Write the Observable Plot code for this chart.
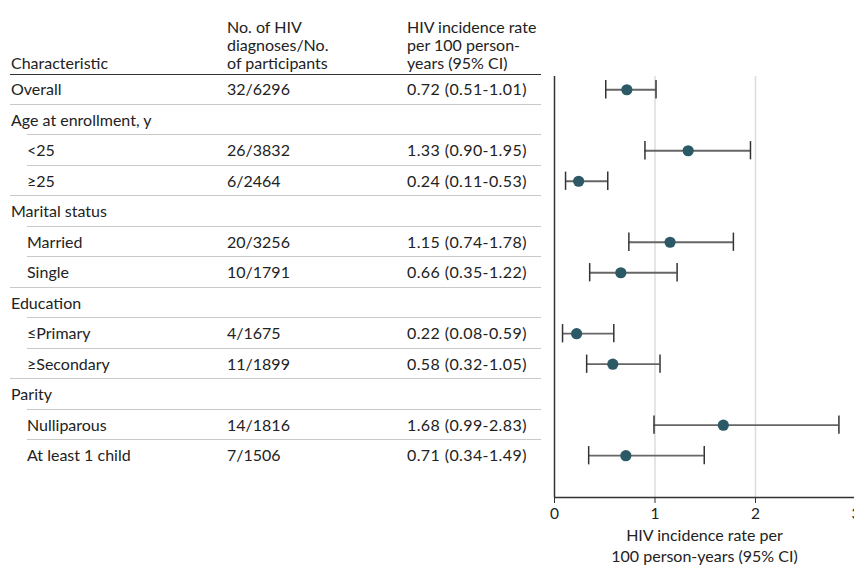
<!DOCTYPE html>
<html>
<head>
<meta charset="utf-8">
<script src="https://cdn.jsdelivr.net/npm/d3@7"></script>
<script src="https://cdn.jsdelivr.net/npm/@observablehq/plot@0.6"></script>
<style>
  html, body { margin: 0; padding: 0; background: #fff; overflow: hidden; }
  #wrap { position: relative; width: 854px; height: 567px; font-family: Lato, "DejaVu Sans", sans-serif; color: #222; }
  #chart { position: absolute; left: 0; top: 0; }
  #table { position: absolute; left: 0; top: 0; width: 541px; font-size: 16px; }
  .hdr { position: absolute; top: 18px; line-height: 17.8px; font-size: 16px; }
  .hline { position: absolute; left: 10px; right: 0; top: 74px; height: 0; border-top: 1px solid #333; }
  .row { position: absolute; left: 0; right: 0; height: 30.5px; line-height: 30.5px; white-space: nowrap; }
  .row .c1, .row .c2, .row .c3 { position: absolute; top: 0; }
  .row .c3 { letter-spacing: 0.4px; }
  .row .sep { position: absolute; right: 0; bottom: 0; height: 0; border-top: 1px solid #c9c9c9; }
</style>
</head>
<body>
<div id="wrap">
  <div id="chart"></div>
  <div id="table"></div>
</div>
<script>
// ---- data ----
const rowLabels = ["Overall", "Age at enrollment, y", "<25", "≥25", "Marital status", "Married", "Single",
  "Education", "≤Primary", "≥Secondary", "Parity", "Nulliparous", "At least 1 child"];
const rowLevel = [0, 0, 1, 1, 0, 1, 1, 0, 1, 1, 0, 1, 1];
const diagnoses = ["32/6296", "", "26/3832", "6/2464", "", "20/3256", "10/1791", "", "4/1675", "11/1899", "", "14/1816", "7/1506"];
const rate  = [0.72, null, 1.33, 0.24, null, 1.15, 0.66, null, 0.22, 0.58, null, 1.68, 0.71];
const lower = [0.51, null, 0.90, 0.11, null, 0.74, 0.35, null, 0.08, 0.32, null, 0.99, 0.34];
const upper = [1.01, null, 1.95, 0.53, null, 1.78, 1.22, null, 0.59, 1.05, null, 2.83, 1.49];
const headers = [
  ["Characteristic"],
  ["No. of HIV", "diagnoses/No.", "of participants"],
  ["HIV incidence rate", "per 100 person-", "years (95% CI)"]
];
const xTicks = [0, 1, 2, 3];
const gridValues = [1, 2];
const xLabel = "HIV incidence rate per\n100 person-years (95% CI)";

// ---- layout constants ----
const colX = [11, 227, 407];
const indent = 27;
const rowTop = 74, rowStep = 30.5;

// ---- table (HTML) ----
const table = document.getElementById("table");
headers.forEach((lines, j) => {
  const h = document.createElement("div");
  h.className = "hdr";
  h.style.left = colX[j] + "px";
  const pad = 3 - lines.length;
  h.innerHTML = "<br>".repeat(pad) + lines.map(s => s.replace(/</g, "&lt;")).join("<br>");
  table.appendChild(h);
});
const hl = document.createElement("div"); hl.className = "hline"; table.appendChild(hl);

const fmt = v => v.toFixed(2);
rowLabels.forEach((lab, i) => {
  const r = document.createElement("div");
  r.className = "row";
  r.style.top = (rowTop + i * rowStep) + "px";
  const c1 = document.createElement("span"); c1.className = "c1";
  c1.style.left = (rowLevel[i] ? indent : colX[0]) + "px"; c1.textContent = lab; r.appendChild(c1);
  const c2 = document.createElement("span"); c2.className = "c2";
  c2.style.left = colX[1] + "px"; c2.textContent = diagnoses[i]; r.appendChild(c2);
  const c3 = document.createElement("span"); c3.className = "c3";
  c3.style.left = colX[2] + "px";
  c3.textContent = rate[i] == null ? "" : `${fmt(rate[i])} (${fmt(lower[i])}-${fmt(upper[i])})`;
  r.appendChild(c3);
  if (i < rowLabels.length - 1) {
    const s = document.createElement("div"); s.className = "sep";
    s.style.left = (rowLevel[i + 1] === 0 ? 10 : indent) + "px";
    r.appendChild(s);
  }
  table.appendChild(r);
});

// ---- forest plot ----
const data = rowLabels.map((label, i) => ({label, i, rate: rate[i], lower: lower[i], upper: upper[i]}))
  .filter(d => d.rate != null);
const yMax = 13.37;
const capHalf = 0.3;

const chart = Plot.plot({
  width: 854,
  height: 567,
  marginLeft: 554,
  marginRight: 0,
  marginTop: 76,
  marginBottom: 70,
  style: {fontFamily: "Lato, 'DejaVu Sans', sans-serif", fontSize: "16px", color: "#222", background: "transparent", overflow: "hidden"},
  x: {domain: [0, 3], range: [554, 855.5], label: null},
  y: {domain: [-0.434, yMax], range: [76, 497], axis: null},
  marks: [
    Plot.ruleX(gridValues, {stroke: "#dcdcdc", strokeWidth: 1.5}),
    Plot.ruleX([0], {stroke: "#333", strokeWidth: 1.5}),
    Plot.ruleY([yMax], {stroke: "#333", strokeWidth: 1.5}),
    Plot.ruleY(data, {y: "i", x1: "lower", x2: "upper", stroke: "#666", strokeWidth: 1.8}),
    Plot.ruleX(data, {x: "lower", y1: d => d.i - capHalf, y2: d => d.i + capHalf, stroke: "#333", strokeWidth: 1.5}),
    Plot.ruleX(data, {x: "upper", y1: d => d.i - capHalf, y2: d => d.i + capHalf, stroke: "#333", strokeWidth: 1.5}),
    Plot.dot(data, {x: "rate", y: "i", r: 5.6, fill: "#2c5966", stroke: "none"}),
    Plot.axisX({ticks: xTicks, tickFormat: d => String(d), tickSize: 6, tickPadding: 4, stroke: "#333", fill: "#222", fontSize: 15.5, label: null}),
    Plot.text([xLabel], {frameAnchor: "bottom", lineAnchor: "top", dy: 29, lineHeight: 1.3, fontSize: 16, fill: "#222"})
  ]
});
document.getElementById("chart").appendChild(chart);
</script>
</body>
</html>
